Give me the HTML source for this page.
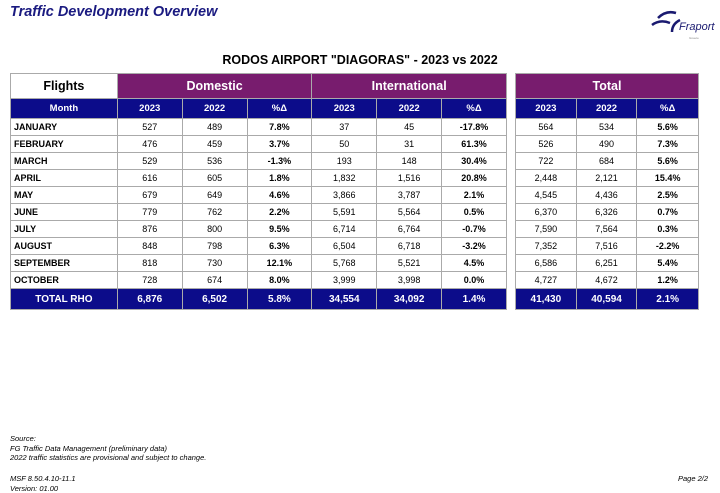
<!DOCTYPE html>
<html><head><style>
body{margin:0;width:720px;height:492px;background:#fff;font-family:"Liberation Sans",sans-serif;position:relative;overflow:hidden}
.t{position:absolute;left:10px;top:4px;font-size:14.5px;font-weight:bold;font-style:italic;color:#1a1a80}
.h{position:absolute;left:0;width:720px;top:53px;text-align:center;font-size:12.5px;font-weight:bold}
table{position:absolute;border-collapse:collapse;font-size:9px;top:73px}
td{border:1px solid #aaa;text-align:center;height:16px;padding:0}
.p td{background:#781c6e;color:#fff;font-size:12.5px;font-weight:bold;height:24px}
.p td.w{background:#fff;color:#000}
.b td{background:#0c0c8a;color:#fff;font-weight:bold;height:19px;font-size:9.5px}
.m{text-align:left;font-weight:bold;padding-left:3px}
.k{font-weight:bold}
.tot td{background:#0c0c8a;color:#fff;font-weight:bold;font-size:10px;height:20px}
.f{position:absolute;left:10px;font-size:7.5px;font-style:italic;line-height:9.5px}
</style></head><body>
<div class="t">Traffic Development Overview</div>
<svg style="position:absolute;left:648px;top:6px" width="70" height="34"><path d="M10 12 Q18 4 28 7" stroke="#1a1a70" stroke-width="2.5" fill="none"/><path d="M4 19 Q12 13 22 17" stroke="#1a1a70" stroke-width="2.5" fill="none"/><path d="M24 26 Q24 18 32 14" stroke="#1a1a70" stroke-width="2.5" fill="none"/><text x="31" y="24" font-size="11" font-style="italic" fill="#1a1a70" font-family="Liberation Sans">Fraport</text><text x="41" y="33" font-size="3" fill="#888">Greece</text></svg>
<div class="h">RODOS AIRPORT "DIAGORAS" - 2023 vs 2022</div>
<table style="left:10px;width:497px">
<colgroup><col style="width:107px"><col style="width:65px"><col style="width:65px"><col style="width:65px"><col style="width:65px"><col style="width:65px"><col style="width:65px"></colgroup>
<tr class="p"><td class="w">Flights</td><td colspan="3">Domestic</td><td colspan="3">International</td></tr>
<tr class="b"><td>Month</td><td>2023</td><td>2022</td><td>%Δ</td><td>2023</td><td>2022</td><td>%Δ</td></tr>
<tr><td class="m">JANUARY</td><td>527</td><td>489</td><td class="k">7.8%</td><td>37</td><td>45</td><td class="k">-17.8%</td></tr>
<tr><td class="m">FEBRUARY</td><td>476</td><td>459</td><td class="k">3.7%</td><td>50</td><td>31</td><td class="k">61.3%</td></tr>
<tr><td class="m">MARCH</td><td>529</td><td>536</td><td class="k">-1.3%</td><td>193</td><td>148</td><td class="k">30.4%</td></tr>
<tr><td class="m">APRIL</td><td>616</td><td>605</td><td class="k">1.8%</td><td>1,832</td><td>1,516</td><td class="k">20.8%</td></tr>
<tr><td class="m">MAY</td><td>679</td><td>649</td><td class="k">4.6%</td><td>3,866</td><td>3,787</td><td class="k">2.1%</td></tr>
<tr><td class="m">JUNE</td><td>779</td><td>762</td><td class="k">2.2%</td><td>5,591</td><td>5,564</td><td class="k">0.5%</td></tr>
<tr><td class="m">JULY</td><td>876</td><td>800</td><td class="k">9.5%</td><td>6,714</td><td>6,764</td><td class="k">-0.7%</td></tr>
<tr><td class="m">AUGUST</td><td>848</td><td>798</td><td class="k">6.3%</td><td>6,504</td><td>6,718</td><td class="k">-3.2%</td></tr>
<tr><td class="m">SEPTEMBER</td><td>818</td><td>730</td><td class="k">12.1%</td><td>5,768</td><td>5,521</td><td class="k">4.5%</td></tr>
<tr><td class="m">OCTOBER</td><td>728</td><td>674</td><td class="k">8.0%</td><td>3,999</td><td>3,998</td><td class="k">0.0%</td></tr>
<tr class="tot"><td>TOTAL RHO</td><td>6,876</td><td>6,502</td><td>5.8%</td><td>34,554</td><td>34,092</td><td>1.4%</td></tr>
</table>
<table style="left:515px;width:184px">
<colgroup><col style="width:61px"><col style="width:61px"><col style="width:62px"></colgroup>
<tr class="p"><td colspan="3">Total</td></tr>
<tr class="b"><td>2023</td><td>2022</td><td>%Δ</td></tr>
<tr><td>564</td><td>534</td><td class="k">5.6%</td></tr>
<tr><td>526</td><td>490</td><td class="k">7.3%</td></tr>
<tr><td>722</td><td>684</td><td class="k">5.6%</td></tr>
<tr><td>2,448</td><td>2,121</td><td class="k">15.4%</td></tr>
<tr><td>4,545</td><td>4,436</td><td class="k">2.5%</td></tr>
<tr><td>6,370</td><td>6,326</td><td class="k">0.7%</td></tr>
<tr><td>7,590</td><td>7,564</td><td class="k">0.3%</td></tr>
<tr><td>7,352</td><td>7,516</td><td class="k">-2.2%</td></tr>
<tr><td>6,586</td><td>6,251</td><td class="k">5.4%</td></tr>
<tr><td>4,727</td><td>4,672</td><td class="k">1.2%</td></tr>
<tr class="tot"><td>41,430</td><td>40,594</td><td>2.1%</td></tr>
</table>
<div class="f" style="top:434px">Source:<br>FG Traffic Data Management (preliminary data)<br>2022 traffic statistics are provisional and subject to change.</div>
<div class="f" style="top:474px">MSF 8.50.4.10-11.1<br>Version: 01.00</div>
<div class="f" style="top:474px;left:auto;right:12px">Page 2/2</div>
</body></html>
